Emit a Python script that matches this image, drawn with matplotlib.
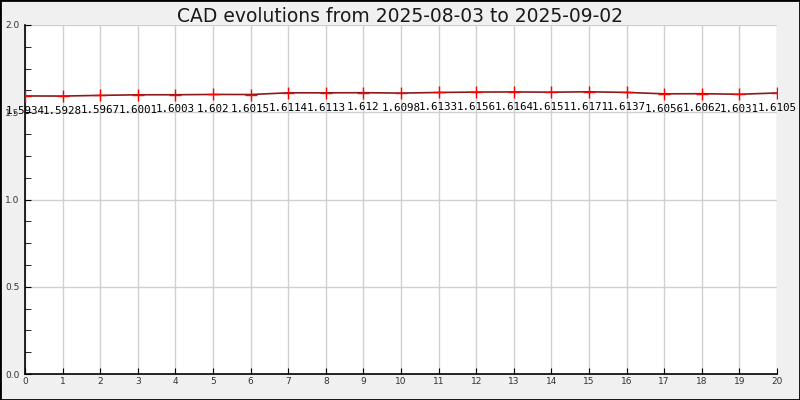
import matplotlib
matplotlib.use("Agg")
import matplotlib.pyplot as plt
from matplotlib.ticker import MultipleLocator

# values
days = list(range(21))
rates = [1.5934, 1.5928, 1.5967, 1.6001, 1.6003, 1.602, 1.6015, 1.6114, 1.6113,
         1.612, 1.6098, 1.6133, 1.6156, 1.6164, 1.6151, 1.6171, 1.6137, 1.6056,
         1.6062, 1.6031, 1.6105]
title = "CAD evolutions from 2025-08-03 to 2025-09-02"

fig = plt.figure(figsize=(8, 4), dpi=100, facecolor="#f0f0f0")
ax = fig.add_axes([25 / 800, 26 / 400, 752 / 800, 349 / 400])
ax.set_facecolor("white")

ax.plot(days, rates, color="#8b1a1a", lw=1.2, marker="+", markersize=9,
        markeredgecolor="red", markeredgewidth=1.0, zorder=3)
for x, y in zip(days, rates):
    ax.annotate(f"{y:g}", (x, y), xytext=(0, -7), textcoords="offset points",
                ha="center", va="top", fontsize=7.8, family="DejaVu Sans Mono",
                color="black")

ax.set_xlim(0, 20)
ax.set_ylim(0, 2.0)
ax.xaxis.set_major_locator(MultipleLocator(1))
ax.yaxis.set_major_locator(MultipleLocator(0.5))
ax.yaxis.set_minor_locator(MultipleLocator(0.125))
ax.yaxis.set_major_formatter(plt.FuncFormatter(lambda v, p: f"{v:.1f}"))
ax.grid(True, which="major", color="#d0d0d0", lw=1)
ax.set_axisbelow(True)
for s in ["top", "right"]:
    ax.spines[s].set_visible(False)
for s in ["left", "bottom"]:
    ax.spines[s].set_color("black")
    ax.spines[s].set_linewidth(1.2)
ax.tick_params(axis="both", which="major", direction="in", length=4,
               labelsize=6.5, labelcolor="#333333", color="black")
ax.tick_params(axis="y", which="minor", direction="in", length=4, color="black")
ax.tick_params(axis="x", pad=2)
ax.tick_params(axis="y", pad=4)

fig.suptitle(title, y=0.982, va="top", fontsize=13.5, color="#1a1a1a")

fig.patches.append(plt.Rectangle((0, 0), 1, 1, transform=fig.transFigure,
                                 fill=False, edgecolor="black", lw=2))

fig.savefig("out.png", dpi=100, facecolor=fig.get_facecolor())
